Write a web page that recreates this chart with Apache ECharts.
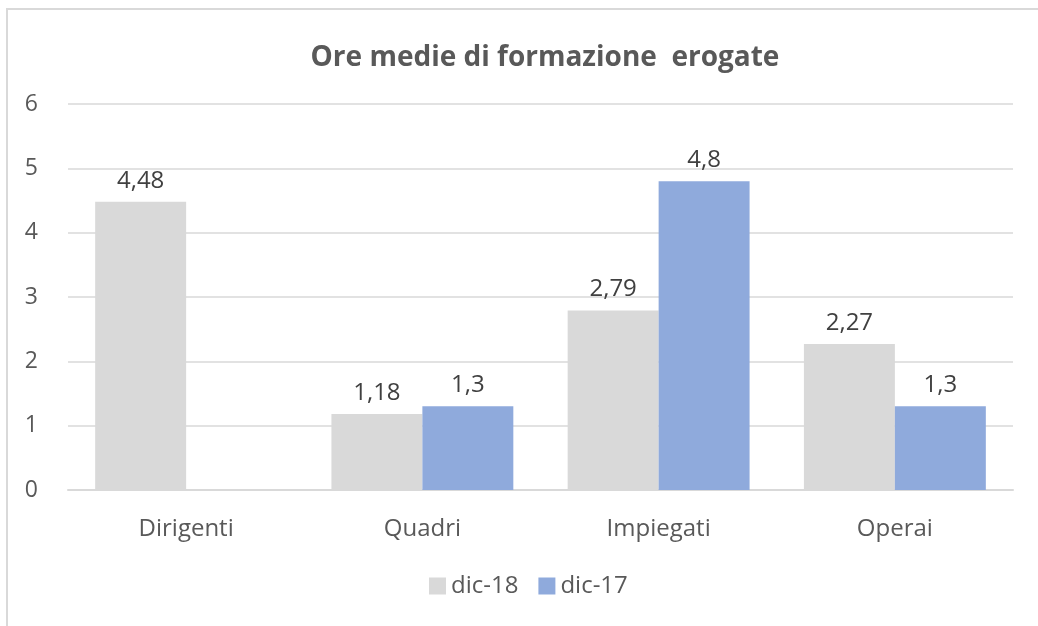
<!DOCTYPE html>
<html>
<head>
<meta charset="utf-8">
<script src="https://cdn.jsdelivr.net/npm/echarts@6/dist/echarts.min.js"></script>
<style>
  html, body { margin: 0; padding: 0; background: #fff; }
  #chart { width: 1038px; height: 626px; }
</style>
</head>
<body>
<div id="chart"></div>
<script>
// dati
const categories = ['Dirigenti', 'Quadri', 'Impiegati', 'Operai'];
const dic18 = [4.48, 1.18, 2.79, 2.27];
const dic17 = [null, 1.3, 4.8, 1.3];
const yTicks = [0, 1, 2, 3, 4, 5, 6];

const textCol = '#595959';
const font = '"Open Sans", "Noto Sans", sans-serif';
const fmt = p => String(p.value).replace('.', ',');

const chart = echarts.init(document.getElementById('chart'));
chart.setOption({
  animation: false,
  textStyle: { fontFamily: font },
  graphic: [{
    type: 'rect',
    shape: { x: 7, y: 9, width: 1200, height: 800 },
    style: { fill: 'none', stroke: '#d9d9d9', lineWidth: 2 },
    silent: true
  }],
  title: {
    text: 'Ore medie di formazione  erogate',
    left: 540,
    textAlign: 'center',
    top: 39,
    textStyle: { color: textCol, fontSize: 28, fontWeight: 'bold', fontFamily: font }
  },
  legend: {
    bottom: 23,
    left: 424,
    itemWidth: 17,
    itemHeight: 17,
    itemGap: 20,
    icon: 'rect',
    textStyle: { color: textCol, fontSize: 24, fontFamily: font }
  },
  grid: { left: 68, right: 25, top: 104, bottom: 136 },
  xAxis: {
    type: 'category',
    data: categories,
    axisLine: { lineStyle: { color: '#d9d9d9', width: 2 } },
    axisTick: { show: false },
    axisLabel: { color: textCol, fontSize: 24, margin: 27, fontFamily: font }
  },
  yAxis: {
    type: 'value',
    min: yTicks[0],
    max: yTicks[yTicks.length - 1],
    interval: 1,
    axisLine: { show: false },
    axisTick: { show: false },
    splitLine: { lineStyle: { color: '#d9d9d9', width: 1.5 } },
    axisLabel: { color: textCol, fontSize: 23, margin: 30, fontFamily: font }
  },
  series: [
    {
      name: 'dic-18',
      type: 'bar',
      data: dic18,
      barGap: '0%',
      barCategoryGap: '23%',
      itemStyle: { color: '#d9d9d9' },
      label: { show: true, position: 'top', distance: 9, color: '#404040', fontSize: 24, formatter: fmt }
    },
    {
      name: 'dic-17',
      type: 'bar',
      data: dic17,
      itemStyle: { color: '#8faadc' },
      label: { show: true, position: 'top', distance: 9, color: '#404040', fontSize: 24, formatter: fmt }
    }
  ]
});
</script>
</body>
</html>
